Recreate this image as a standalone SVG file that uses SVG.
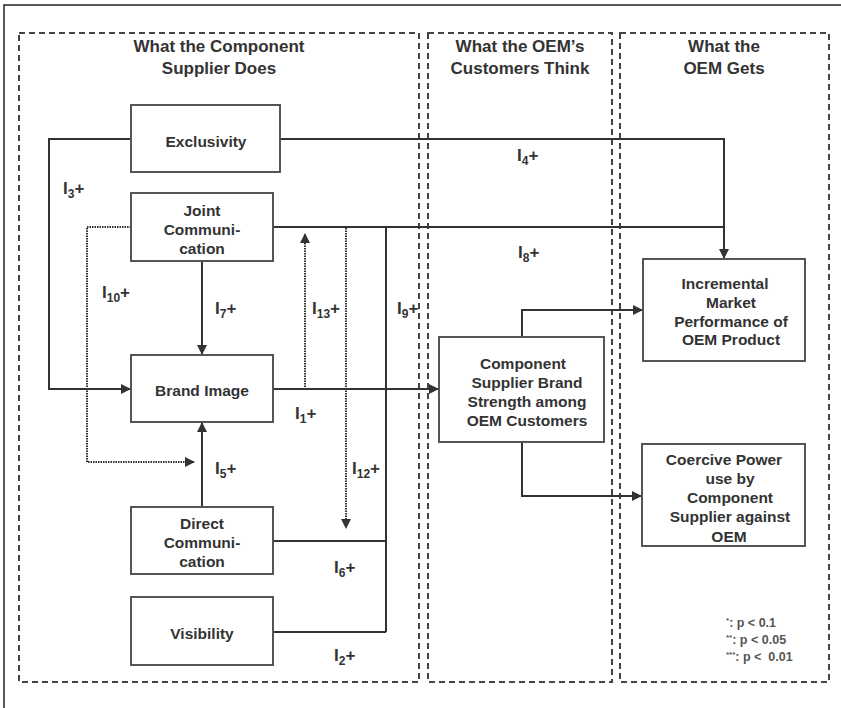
<svg xmlns="http://www.w3.org/2000/svg" width="841" height="708" viewBox="0 0 841 708">
  <style>
    .frame { fill: none; stroke: #222; stroke-width: 1.5; }
    .panel { fill: none; stroke: #444; stroke-width: 2; stroke-dasharray: 6 4; }
    .box { fill: #fff; stroke: #555; stroke-width: 2; }
    .title { font-family: "Liberation Sans", Arial, sans-serif; font-weight: bold; font-size: 17px; fill: #333; text-anchor: middle; }
    .node { font-family: "Liberation Sans", Arial, sans-serif; font-weight: bold; font-size: 15.5px; fill: #333; text-anchor: middle; }
    .lbl { font-family: "Liberation Sans", Arial, sans-serif; font-weight: bold; font-size: 17px; fill: #333; }
    .sub { font-size: 12px; }
    .legend { font-family: "Liberation Sans", Arial, sans-serif; font-weight: bold; font-size: 12.5px; fill: #555; }
    .sup { font-size: 8px; }
    .line { fill: none; stroke: #333; stroke-width: 2; }
    .dot { fill: none; stroke: #333; stroke-width: 2; stroke-dasharray: 1.5 1; }
  </style>
  <defs>
    <marker id="arr" viewBox="0 0 10 10" refX="9" refY="5" markerWidth="5" markerHeight="5" orient="auto" markerUnits="strokeWidth">
      <path d="M0,0 L10,5 L0,10 z" fill="#333"/>
    </marker>
  </defs>

  <rect width="841" height="708" fill="#fff"/>

  <!-- outer frame (left and top edges) -->
  <path class="frame" d="M4,708 V5 H841"/>

  <!-- column panels -->
  <g id="panels">
    <rect class="panel" x="19" y="33" width="400" height="649"/>
    <rect class="panel" x="428" y="33" width="184" height="649"/>
    <rect class="panel" x="620" y="33" width="209" height="649"/>
  </g>

  <g id="titles">
    <text class="title" x="219" y="52">What the Component</text>
    <text class="title" x="219" y="74">Supplier Does</text>
    <text class="title" x="520" y="52">What the OEM’s</text>
    <text class="title" x="520" y="74">Customers Think</text>
    <text class="title" x="724" y="52">What the</text>
    <text class="title" x="724" y="74">OEM Gets</text>
  </g>

  <!-- connectors -->
  <g id="connectors">
    <!-- Exclusivity -> Brand Image -->
    <path class="line" d="M131,139 H49 V389 H130" marker-end="url(#arr)"/>
    <!-- Exclusivity -> Incremental Market Performance -->
    <path class="line" d="M280,139 H724 V258" marker-end="url(#arr)"/>
    <!-- Joint Communication -> Incremental Market Performance -->
    <path class="line" d="M273,227 H724"/>
    <!-- Joint Communication -> Brand Image -->
    <path class="line" d="M202,261 V354" marker-end="url(#arr)"/>
    <!-- Direct Communication -> Brand Image -->
    <path class="line" d="M202,507 V423" marker-end="url(#arr)"/>
    <!-- Brand Image -> Component Supplier Brand Strength -->
    <path class="line" d="M273,389 H438" marker-end="url(#arr)"/>
    <!-- Direct Communication / Visibility / Joint Communication bus -->
    <path class="line" d="M386,227 V632"/>
    <path class="line" d="M273,541 H386"/>
    <path class="line" d="M273,632 H386"/>
    <!-- Brand Strength -> Incremental Market Performance -->
    <path class="line" d="M522,337 V310 H642" marker-end="url(#arr)"/>
    <!-- Brand Strength -> Coercive Power -->
    <path class="line" d="M522,442 V496 H641" marker-end="url(#arr)"/>
    <!-- dotted moderation paths -->
    <path class="dot" d="M131,227 H87 V462 H194" marker-end="url(#arr)"/>
    <path class="dot" d="M305,387 V234" marker-end="url(#arr)"/>
    <path class="dot" d="M346,228 V528" marker-end="url(#arr)"/>
  </g>

  <!-- nodes -->
  <g id="exclusivity">
    <rect class="box" x="131" y="105" width="149" height="67"/>
    <text class="node" x="206" y="146.5">Exclusivity</text>
  </g>
  <g id="joint-communication">
    <rect class="box" x="131" y="193" width="142" height="68"/>
    <text class="node" x="202" y="215.5">Joint</text>
    <text class="node" x="202" y="234.5">Communi-</text>
    <text class="node" x="202" y="253.5">cation</text>
  </g>
  <g id="brand-image">
    <rect class="box" x="131" y="355" width="142" height="67"/>
    <text class="node" x="202" y="395.5">Brand Image</text>
  </g>
  <g id="direct-communication">
    <rect class="box" x="131" y="507" width="142" height="67"/>
    <text class="node" x="202" y="528.5">Direct</text>
    <text class="node" x="202" y="547.5">Communi-</text>
    <text class="node" x="202" y="567">cation</text>
  </g>
  <g id="visibility">
    <rect class="box" x="131" y="597" width="142" height="68"/>
    <text class="node" x="202" y="638.5">Visibility</text>
  </g>
  <g id="brand-strength">
    <rect class="box" x="439" y="337" width="165" height="105"/>
    <text class="node" x="523" y="368.5">Component</text>
    <text class="node" x="527" y="387.5">Supplier Brand</text>
    <text class="node" x="527" y="407">Strength among</text>
    <text class="node" x="527" y="425.5">OEM Customers</text>
  </g>
  <g id="market-performance">
    <rect class="box" x="643" y="259" width="162" height="102"/>
    <text class="node" x="725" y="288.5">Incremental</text>
    <text class="node" x="731" y="307.5">Market</text>
    <text class="node" x="731" y="326.5">Performance of</text>
    <text class="node" x="731" y="344.5">OEM Product</text>
  </g>
  <g id="coercive-power">
    <rect class="box" x="642" y="444" width="163" height="102"/>
    <text class="node" x="724" y="464.5">Coercive Power</text>
    <text class="node" x="730" y="483.5">use by</text>
    <text class="node" x="730" y="502.5">Component</text>
    <text class="node" x="730" y="522">Supplier against</text>
    <text class="node" x="729" y="541.5">OEM</text>
  </g>

  <!-- path labels -->
  <g id="labels">
    <text class="lbl" x="63" y="194">I<tspan class="sub" dy="4">3</tspan><tspan dy="-4">+</tspan></text>
    <text class="lbl" x="102" y="298">I<tspan class="sub" dy="4">10</tspan><tspan dy="-4">+</tspan></text>
    <text class="lbl" x="215" y="314">I<tspan class="sub" dy="4">7</tspan><tspan dy="-4">+</tspan></text>
    <text class="lbl" x="312" y="314">I<tspan class="sub" dy="4">13</tspan><tspan dy="-4">+</tspan></text>
    <text class="lbl" x="397" y="314">I<tspan class="sub" dy="4">9</tspan><tspan dy="-4">+</tspan></text>
    <text class="lbl" x="295" y="419">I<tspan class="sub" dy="4">1</tspan><tspan dy="-4">+</tspan></text>
    <text class="lbl" x="215" y="474">I<tspan class="sub" dy="4">5</tspan><tspan dy="-4">+</tspan></text>
    <text class="lbl" x="352" y="474">I<tspan class="sub" dy="4">12</tspan><tspan dy="-4">+</tspan></text>
    <text class="lbl" x="334" y="573">I<tspan class="sub" dy="4">6</tspan><tspan dy="-4">+</tspan></text>
    <text class="lbl" x="334" y="661">I<tspan class="sub" dy="4">2</tspan><tspan dy="-4">+</tspan></text>
    <text class="lbl" x="517" y="161">I<tspan class="sub" dy="4">4</tspan><tspan dy="-4">+</tspan></text>
    <text class="lbl" x="518" y="258">I<tspan class="sub" dy="4">8</tspan><tspan dy="-4">+</tspan></text>
  </g>

  <!-- significance legend -->
  <g id="legend">
    <text class="legend" x="726" y="627"><tspan class="sup" dy="-4">*</tspan><tspan dy="4">: p &lt; 0.1</tspan></text>
    <text class="legend" x="726" y="644"><tspan class="sup" dy="-4">**</tspan><tspan dy="4">: p &lt; 0.05</tspan></text>
    <text class="legend" x="726" y="661"><tspan class="sup" dy="-4">***</tspan><tspan dy="4">: p &lt;&#160; 0.01</tspan></text>
  </g>
</svg>
